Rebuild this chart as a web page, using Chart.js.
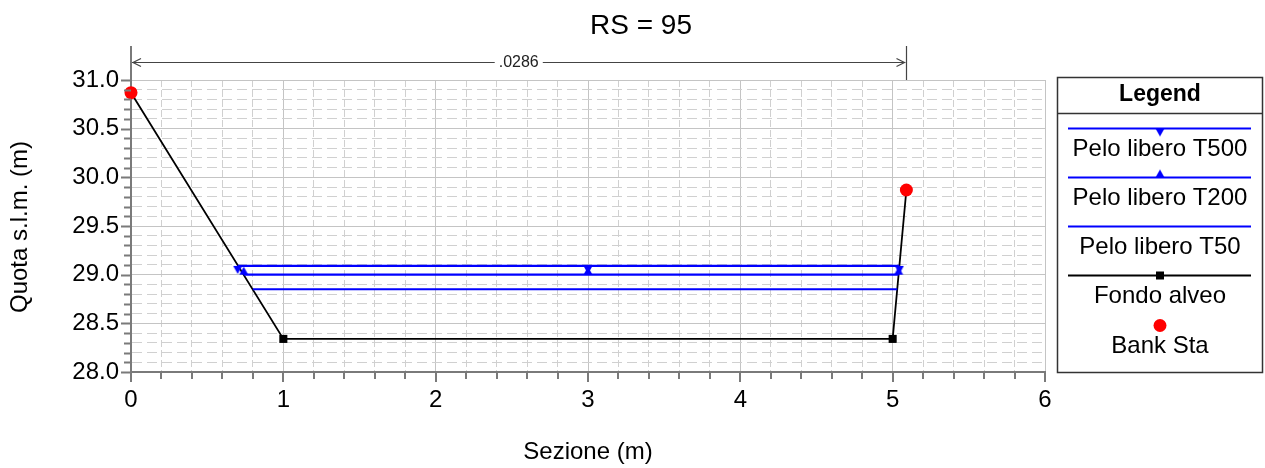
<!DOCTYPE html>
<html>
<head>
<meta charset="utf-8">
<script src="https://cdn.jsdelivr.net/npm/chart.js@4.4.0/dist/chart.umd.min.js"></script>
<style>
  html, body { margin: 0; padding: 0; background: #fff; }
  #wrap { width: 1265px; height: 468px; }
</style>
</head>
<body>
<div id="wrap"><canvas id="grafico"></canvas></div>
<script>
// Dati (sezione RS = 95)
const titolo = 'RS = 95';
const nManning = '.0286';
const fondoX = [0, 1, 5, 5.09];
const fondoY = [30.87, 28.34, 28.34, 29.87];
const bankX = [0, 5.09];
const bankY = [30.87, 29.87];
const t500X = [0.70, 3, 5.044];
const t500Y = [29.09, 29.09, 29.09];
const t200X = [0.74, 3, 5.039];
const t200Y = [29.00, 29.00, 29.00];
const t50X = [0.80, 5.03];
const t50Y = [28.85, 28.85];
const xLabels = [0, 1, 2, 3, 4, 5, 6];
const yLabels = [28.0, 28.5, 29.0, 29.5, 30.0, 30.5, 31.0];
const xMinorStep = 0.2;
const yMinorStep = 0.1;
const legendLabels = ['Pelo libero T500', 'Pelo libero T200', 'Pelo libero T50', 'Fondo alveo', 'Bank Sta'];

const FONT = '"Liberation Sans", Arial, sans-serif';
const BLU = '#0000ff';

function punti(xs, ys) {
  return xs.map((v, i) => ({ x: v, y: ys[i] }));
}

// triangolo appoggiato sulla linea (giu = verso il basso)
function triangolo(giu) {
  const c = document.createElement('canvas');
  c.width = 10; c.height = 18;
  const g = c.getContext('2d');
  g.fillStyle = BLU;
  g.beginPath();
  if (giu) { g.moveTo(0.5, 9); g.lineTo(9.5, 9); g.lineTo(5, 17); }
  else { g.moveTo(0.5, 9); g.lineTo(9.5, 9); g.lineTo(5, 1); }
  g.closePath();
  g.fill();
  return c;
}
const triGiu = triangolo(true);
const triSu = triangolo(false);

function isMajor(v, labels) {
  return labels.some(l => Math.abs(l - v) < 1e-6);
}

function tickSeq(labels, step) {
  const out = [];
  const n = Math.round((labels[labels.length - 1] - labels[0]) / step);
  for (let i = 0; i <= n; i++) out.push({ value: Math.round((labels[0] + i * step) * 1000) / 1000 });
  return out;
}

const decorazioni = {
  id: 'decorazioni',
  afterDraw(chart) {
    const { ctx, chartArea: a, scales: { x, y } } = chart;
    ctx.save();

    // tacche degli assi
    ctx.strokeStyle = '#7a7a7a';
    ctx.lineWidth = 2;
    ctx.beginPath();
    y.ticks.forEach(t => {
      const py = Math.round(y.getPixelForValue(t.value)) + 0.5;
      const len = isMajor(t.value, yLabels) ? 10 : 7;
      ctx.moveTo(a.left - len, py);
      ctx.lineTo(a.left, py);
    });
    x.ticks.forEach(t => {
      const px = Math.round(x.getPixelForValue(t.value));
      const len = isMajor(t.value, xLabels) ? 10 : 7;
      ctx.moveTo(px, a.bottom);
      ctx.lineTo(px, a.bottom + len);
    });
    // prolungamento asse y
    const x0 = Math.round(a.left);
    ctx.moveTo(x0, 46);
    ctx.lineTo(x0, a.top);
    ctx.stroke();

    // quota n di Manning
    const xr = Math.round(x.getPixelForValue(bankX[1])) + 0.5;
    const yd = 62.5;
    ctx.strokeStyle = '#444';
    ctx.lineWidth = 1.2;
    ctx.beginPath();
    ctx.moveTo(xr, 46);
    ctx.lineTo(xr, a.top);
    ctx.stroke();
    ctx.font = '16px ' + FONT;
    ctx.fillStyle = '#222';
    ctx.textAlign = 'center';
    ctx.textBaseline = 'middle';
    const xm = (x0 + xr) / 2;
    const tw = ctx.measureText(nManning).width / 2 + 4;
    ctx.fillText(nManning, xm, yd);
    ctx.beginPath();
    ctx.moveTo(x0 + 1, yd); ctx.lineTo(xm - tw, yd);
    ctx.moveTo(xm + tw, yd); ctx.lineTo(xr - 1, yd);
    ctx.moveTo(x0 + 10, yd - 4); ctx.lineTo(x0 + 2, yd); ctx.lineTo(x0 + 10, yd + 4);
    ctx.moveTo(xr - 10, yd - 4); ctx.lineTo(xr - 2, yd); ctx.lineTo(xr - 10, yd + 4);
    ctx.stroke();

    // titolo e titoli assi
    ctx.fillStyle = '#000';
    ctx.font = '28px ' + FONT;
    ctx.fillText(titolo, 641, 26);
    ctx.font = '24px ' + FONT;
    ctx.fillText('Sezione (m)', (a.left + a.right) / 2, 452);
    ctx.save();
    ctx.translate(20, 227);
    ctx.rotate(-Math.PI / 2);
    ctx.fillText('Quota s.l.m. (m)', 0, 0);
    ctx.restore();

    // legenda
    ctx.strokeStyle = '#333';
    ctx.lineWidth = 1.5;
    ctx.strokeRect(1057.5, 77.5, 205, 295);
    ctx.beginPath();
    ctx.moveTo(1057.5, 113.5); ctx.lineTo(1262.5, 113.5);
    ctx.stroke();
    ctx.font = 'bold 23px ' + FONT;
    ctx.fillText('Legend', 1160, 95);
    ctx.font = '24px ' + FONT;
    const cx = 1160;
    legendLabels.forEach((lab, i) => {
      const ly = Math.round(127.5 + i * 49.3) + 0.5;
      if (i < 4) {
        ctx.strokeStyle = i < 3 ? BLU : '#000';
        ctx.lineWidth = i < 3 ? 2 : 1.8;
        ctx.beginPath();
        ctx.moveTo(1068, ly); ctx.lineTo(1251, ly);
        ctx.stroke();
      }
      if (i === 0) ctx.drawImage(triGiu, cx - 5, ly - 9);
      if (i === 1) ctx.drawImage(triSu, cx - 5, ly - 9);
      if (i === 3) { ctx.fillStyle = '#000'; ctx.fillRect(cx - 4, ly - 4, 8, 8); }
      if (i === 4) {
        ctx.fillStyle = '#ff0000';
        ctx.beginPath(); ctx.arc(cx, ly, 6.5, 0, Math.PI * 2); ctx.fill();
      }
      ctx.fillStyle = '#000';
      ctx.fillText(lab, cx, ly + 21);
    });
    ctx.restore();
  }
};

const ctx = document.getElementById('grafico').getContext('2d');
new Chart(ctx, {
  type: 'line',
  data: {
    datasets: [
      { label: 'Bank Sta', data: punti(bankX, bankY), showLine: false,
        pointStyle: 'circle', pointRadius: 6.5, pointBackgroundColor: '#ff0000', pointBorderWidth: 0, clip: false },
      { label: 'Pelo libero T500', data: punti(t500X, t500Y), borderColor: BLU, borderWidth: 2.2,
        pointStyle: triGiu, clip: false },
      { label: 'Pelo libero T200', data: punti(t200X, t200Y), borderColor: BLU, borderWidth: 2.2,
        pointStyle: triSu, clip: false },
      { label: 'Pelo libero T50', data: punti(t50X, t50Y), borderColor: BLU, borderWidth: 2.2,
        pointRadius: 0, clip: false },
      { label: 'Fondo alveo', data: punti(fondoX, fondoY), borderColor: '#000', borderWidth: 1.8,
        pointStyle: 'rect', pointRadius: 5.7, pointBackgroundColor: '#000', pointBorderWidth: 0, clip: false }
    ]
  },
  options: {
    responsive: true,
    maintainAspectRatio: false,
    animation: false,
    events: [],
    layout: { padding: { top: 80, right: 220, left: 0, bottom: 0 } },
    plugins: { legend: { display: false }, tooltip: { enabled: false }, title: { display: false } },
    elements: { line: { tension: 0 } },
    scales: {
      x: {
        type: 'linear', min: 0, max: 6,
        afterBuildTicks: s => { s.ticks = tickSeq(xLabels, xMinorStep); },
        afterFit: s => { s.height = 96; },
        ticks: {
          autoSkip: false, maxRotation: 0, padding: 14, color: '#000',
          font: { family: FONT, size: 24 },
          callback: v => isMajor(v, xLabels) ? String(Math.round(v)) : ''
        },
        grid: {
          drawTicks: false,
          color: c => isMajor(c.tick.value, xLabels) ? '#c4c4c4' : '#d0d0d0',
          lineWidth: 1
        },
        border: {
          display: true, color: '#7a7a7a', width: 2,
          dash: c => (c.tick && !isMajor(c.tick.value, xLabels)) ? [7, 3] : []
        }
      },
      y: {
        type: 'linear', min: 28, max: 31,
        afterBuildTicks: s => { s.ticks = tickSeq(yLabels, yMinorStep); },
        afterFit: s => { s.width = 131; },
        ticks: {
          autoSkip: false, padding: 12, color: '#000',
          font: { family: FONT, size: 24 },
          callback: v => isMajor(v, yLabels) ? v.toFixed(1) : ''
        },
        grid: {
          drawTicks: false,
          color: c => isMajor(c.tick.value, yLabels) ? '#c4c4c4' : '#d0d0d0',
          lineWidth: 1
        },
        border: {
          display: true, color: '#7a7a7a', width: 2,
          dash: c => (c.tick && !isMajor(c.tick.value, yLabels)) ? [10, 5] : []
        }
      }
    }
  },
  plugins: [decorazioni]
});
</script>
</body>
</html>
